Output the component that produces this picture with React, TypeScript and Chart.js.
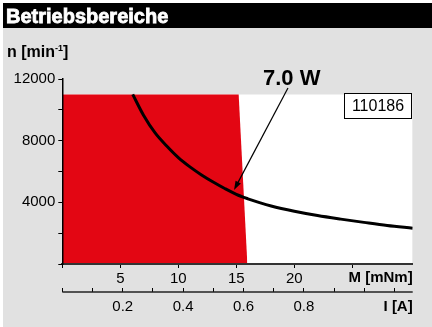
import React, { useEffect, useRef } from "react";
import { Chart, registerables } from "chart.js";
Chart.register(...registerables);

const FONT = "'Liberation Sans', Arial, Helvetica, sans-serif";

const TITLE = "Betriebsbereiche";
const Y_TITLE_MAIN = "n [min";
const Y_TITLE_SUP = "-1";
const Y_TITLE_END = "]";
const X_TITLE = "M [mNm]";
const X2_TITLE = "I [A]";
const POWER_LABEL = "7.0 W";
const PART_NO = "110186";

// axis ticks
const torqueTicks = [0, 5, 10, 15, 20, 25];
const torqueLabels = ["", "5", "10", "15", "20", ""];
const currentTicks = [0, 0.1, 0.2, 0.3, 0.4, 0.5, 0.6, 0.7, 0.8, 0.9, 1.0, 1.1];
const currentLabels = ["", "", "0.2", "", "0.4", "", "0.6", "", "0.8", "", "", ""];
const speedTicks = [0, 2000, 4000, 6000, 8000, 10000, 12000];
const speedLabels = ["", "", "4000", "", "8000", "", "12000"];

const torqueMax = 30.2;
const currentMax = 1.16;
const speedMax = 12000;

// operating limit (white field)
const limitTorque = [0, 30.2];
const limitSpeed = [11000, 11000];

// continuous operation range (red)
const rangeTorque = [0, 15.2, 15.95];
const rangeSpeed = [11000, 11000, 0];

// 7.0 W power curve
const curveTorque = [6.07, 7, 8, 9, 10, 11, 12, 13, 14, 15, 16, 17, 18, 20, 22, 24, 26, 28, 30.2];
const curveSpeed = [11000, 9650, 8500, 7650, 6900, 6300, 5780, 5320, 4900, 4520, 4230, 3980, 3760, 3420, 3140, 2910, 2700, 2500, 2320];

// arrow of power label (data coords)
const arrowFrom = { x: 19.45, y: 11420 };
const arrowTo = { x: 14.8, y: 4800 };

const toPts = (xs: number[], ys: number[]) => xs.map((x, i) => ({ x, y: ys[i] }));

const decor = {
  id: "decor",
  beforeDraw(chart: any) {
    const ctx = chart.ctx;
    const W = chart.width, H = chart.height;
    ctx.save();
    ctx.fillStyle = "#ffffff";
    ctx.fillRect(0, 0, W, H);
    ctx.fillStyle = "#e1e1e1";
    ctx.fillRect(3, 3, W - 3, H - 3);
    ctx.fillStyle = "#000000";
    ctx.fillRect(3, 3, W - 3, 25);
    ctx.fillStyle = "#ffffff";
    ctx.strokeStyle = "#ffffff";
    ctx.lineWidth = 0.8;
    ctx.font = `bold 20px ${FONT}`;
    ctx.textBaseline = "alphabetic";
    ctx.textAlign = "left";
    ctx.fillText(TITLE, 6, 23);
    ctx.strokeText(TITLE, 6, 23);
    ctx.restore();
  },
  afterDraw(chart: any) {
    const ctx = chart.ctx;
    const xs = chart.scales.x, ys = chart.scales.y, x2 = chart.scales.x2;
    const area = chart.chartArea;
    ctx.save();
    // current axis line
    const ly = x2.top + 4;
    ctx.strokeStyle = "#222";
    ctx.lineWidth = 1.5;
    ctx.beginPath();
    ctx.moveTo(area.left, ly);
    ctx.lineTo(area.right, ly);
    ctx.stroke();

    // y title
    ctx.fillStyle = "#000";
    ctx.textAlign = "left";
    ctx.textBaseline = "alphabetic";
    ctx.font = `bold 16px ${FONT}`;
    let tx = 7;
    ctx.fillText(Y_TITLE_MAIN, tx, 57);
    tx += ctx.measureText(Y_TITLE_MAIN).width;
    ctx.font = `bold 9px ${FONT}`;
    ctx.fillText(Y_TITLE_SUP, tx, 51);
    tx += ctx.measureText(Y_TITLE_SUP).width;
    ctx.font = `bold 16px ${FONT}`;
    ctx.fillText(Y_TITLE_END, tx, 57);

    // axis titles
    ctx.textAlign = "right";
    ctx.font = `bold 15px ${FONT}`;
    ctx.fillText(X_TITLE, area.right, 282);
    ctx.fillText(X2_TITLE, area.right, 311);

    // power label
    ctx.textAlign = "left";
    ctx.font = `bold 22px ${FONT}`;
    ctx.fillText(POWER_LABEL, 263, 85);

    // arrow
    const fx = xs.getPixelForValue(arrowFrom.x), fy = ys.getPixelForValue(arrowFrom.y);
    const txp = xs.getPixelForValue(arrowTo.x), typ = ys.getPixelForValue(arrowTo.y);
    const ang = Math.atan2(typ - fy, txp - fx);
    const hl = 9, hw = 3;
    ctx.strokeStyle = "#000";
    ctx.lineWidth = 1.2;
    ctx.beginPath();
    ctx.moveTo(fx, fy);
    ctx.lineTo(txp - Math.cos(ang) * hl * 0.8, typ - Math.sin(ang) * hl * 0.8);
    ctx.stroke();
    ctx.beginPath();
    ctx.moveTo(txp, typ);
    ctx.lineTo(txp - Math.cos(ang) * hl - Math.sin(ang) * hw, typ - Math.sin(ang) * hl + Math.cos(ang) * hw);
    ctx.lineTo(txp - Math.cos(ang) * hl + Math.sin(ang) * hw, typ - Math.sin(ang) * hl - Math.cos(ang) * hw);
    ctx.closePath();
    ctx.fillStyle = "#000";
    ctx.fill();

    // part number box
    ctx.fillStyle = "#fff";
    ctx.fillRect(344.5, 93.5, 67, 25);
    ctx.strokeStyle = "#000";
    ctx.lineWidth = 1;
    ctx.strokeRect(344.5, 93.5, 67, 25);
    ctx.fillStyle = "#000";
    ctx.textAlign = "center";
    ctx.textBaseline = "middle";
    ctx.font = `16px ${FONT}`;
    ctx.fillText(PART_NO, 378, 106.5);
    ctx.restore();
  },
};

export default function App() {
  const ref = useRef<HTMLCanvasElement>(null);
  useEffect(() => {
    document.body.style.margin = "0";
    const canvas = ref.current!;
    const tickFont = { family: FONT, size: 15 };
    const chart = new Chart(canvas, {
      type: "line",
      data: {
        datasets: [
          {
            data: toPts(curveTorque, curveSpeed),
            borderColor: "#000",
            borderWidth: 3,
            pointRadius: 0,
            fill: false,
            cubicInterpolationMode: "monotone",
            order: 1,
          } as any,
          {
            data: toPts(rangeTorque, rangeSpeed),
            borderWidth: 0,
            borderColor: "rgba(0,0,0,0)",
            backgroundColor: "#e30613",
            pointRadius: 0,
            fill: "origin",
            tension: 0,
            order: 2,
          },
          {
            data: toPts(limitTorque, limitSpeed),
            borderWidth: 0,
            borderColor: "rgba(0,0,0,0)",
            backgroundColor: "#ffffff",
            pointRadius: 0,
            fill: "origin",
            tension: 0,
            order: 3,
          },
        ],
      },
      options: {
        animation: false,
        responsive: false,
        events: [],
        layout: { padding: { top: 79, right: 19.3, left: 0, bottom: 0 } },
        plugins: { legend: { display: false }, tooltip: { enabled: false } },
        scales: {
          x: {
            type: "linear",
            position: "bottom",
            weight: 0,
            min: 0,
            max: torqueMax,
            afterBuildTicks: (s: any) => { s.ticks = torqueTicks.map((v) => ({ value: v })); },
            afterFit: (s: any) => { s.height = 24; },
            ticks: {
              autoSkip: false,
              maxRotation: 0,
              padding: 2,
              color: "#000",
              font: tickFont,
              callback: (v: any) => torqueLabels[torqueTicks.indexOf(v)] ?? "",
            },
            grid: { drawOnChartArea: false, drawTicks: true, tickLength: 4, color: "#000", lineWidth: 1, z: 1 },
            border: { display: true, color: "#333", width: 2, z: 1 },
          },
          x2: {
            type: "linear",
            position: "bottom",
            weight: 1,
            min: 0,
            max: currentMax,
            afterBuildTicks: (s: any) => { s.ticks = currentTicks.map((v) => ({ value: v })); },
            afterFit: (s: any) => { s.height = 39; },
            ticks: {
              autoSkip: false,
              maxRotation: 0,
              padding: 6,
              color: "#000",
              font: tickFont,
              callback: (v: any) => {
                const i = currentTicks.findIndex((c) => Math.abs(c - v) < 1e-6);
                return i >= 0 ? currentLabels[i] : "";
              },
            },
            grid: { drawOnChartArea: false, drawTicks: true, tickLength: 4, color: "#000", lineWidth: 1, z: 1 },
            border: { display: false },
          },
          y: {
            type: "linear",
            position: "left",
            min: 0,
            max: speedMax,
            afterBuildTicks: (s: any) => { s.ticks = speedTicks.map((v) => ({ value: v })); },
            afterFit: (s: any) => { s.width = 62.3; },
            ticks: {
              autoSkip: false,
              padding: 3,
              color: "#000",
              font: tickFont,
              callback: (v: any) => speedLabels[speedTicks.indexOf(v)] ?? "",
            },
            grid: { drawOnChartArea: false, drawTicks: true, tickLength: 4, color: "#000", lineWidth: 1, z: 1 },
            border: { display: true, color: "#000", width: 1.5, z: 1 },
          },
        },
      } as any,
      plugins: [decor],
    });
    return () => chart.destroy();
  }, []);
  return (
    <div style={{ position: "absolute", left: 0, top: 0, width: 432, height: 327 }}>
      <canvas ref={ref} width={432} height={327} style={{ display: "block" }} />
    </div>
  );
}
